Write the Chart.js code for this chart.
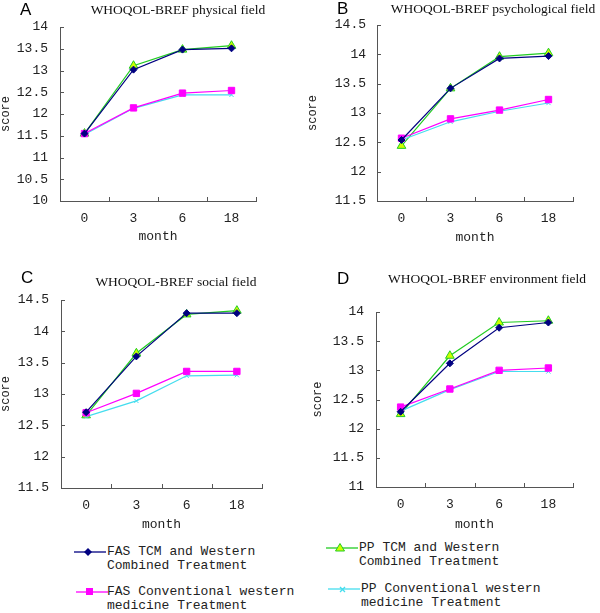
<!DOCTYPE html>
<html>
<head>
<meta charset="utf-8">
<script src="https://cdn.jsdelivr.net/npm/chart.js@4"></script>
<style>
  body { margin: 0; background: #fff; }
  #page { position: relative; width: 600px; height: 613px; overflow: hidden; }
  canvas { position: absolute; }
  .title { position: absolute; font: 13.5px "Liberation Serif", serif; color: #111; white-space: nowrap; transform: translate(-50%, -50%); }
  .letter { position: absolute; font: 17px "Liberation Sans", Arial, sans-serif; color: #000; line-height: 1; }
  .leg { position: absolute; font: 13px "Liberation Mono", monospace; color: #222; line-height: 13.5px; white-space: nowrap; }
  .sym { position: absolute; }
</style>
</head>
<body>
<div id="page">
  <canvas id="cA" width="300" height="250" style="left:0;top:0"></canvas>
  <canvas id="cB" width="300" height="250" style="left:300px;top:0"></canvas>
  <canvas id="cC" width="300" height="283" style="left:0;top:250px"></canvas>
  <canvas id="cD" width="300" height="283" style="left:300px;top:250px"></canvas>

  <div class="letter" style="left:20px;top:1px">A</div>
  <div class="letter" style="left:337px;top:0px">B</div>
  <div class="letter" style="left:21px;top:269px">C</div>
  <div class="letter" style="left:337px;top:270px">D</div>

  <div class="title" style="left:178px;top:10px">WHOQOL-BREF physical field</div>
  <div class="title" style="left:493px;top:9px">WHOQOL-BREF psychological field</div>
  <div class="title" style="left:176px;top:282px">WHOQOL-BREF social field</div>
  <div class="title" style="left:487px;top:279px">WHOQOL-BREF environment field</div>

  <svg class="sym" style="left:72px;top:545px" width="36" height="14">
    <line x1="2" y1="7" x2="34" y2="7" stroke="#000080" stroke-width="1.3"/>
    <polygon points="16,3 20,7 16,11 12,7" fill="#000080"/>
  </svg>
  <div class="leg" style="left:107px;top:545px">FAS TCM and Western<br>Combined Treatment</div>

  <svg class="sym" style="left:324px;top:541px" width="36" height="14">
    <line x1="2" y1="7" x2="34" y2="7" stroke="#22cc22" stroke-width="1.3"/>
    <polygon points="16,2.5 20.5,10 11.5,10" fill="#ccff00" stroke="#22cc22" stroke-width="1"/>
  </svg>
  <div class="leg" style="left:359px;top:541px">PP TCM and Western<br>Combined Treatment</div>

  <svg class="sym" style="left:74px;top:585px" width="36" height="14">
    <line x1="2" y1="7" x2="34" y2="7" stroke="#ff00ff" stroke-width="1.3"/>
    <rect x="12" y="3" width="7" height="7" fill="#ff00ff"/>
  </svg>
  <div class="leg" style="left:107px;top:585px">FAS Conventional western<br>medicine Treatment</div>

  <svg class="sym" style="left:326px;top:582px" width="36" height="14">
    <line x1="2" y1="7" x2="34" y2="7" stroke="#44ddee" stroke-width="1.3"/>
    <path d="M14,5 L19,10 M19,5 L14,10" stroke="#44ddee" stroke-width="1.3"/>
  </svg>
  <div class="leg" style="left:361px;top:582px">PP Conventional western<br>medicine Treatment</div>
</div>

<script>
// months of follow-up
const months = ['0', '3', '6', '18'];

const seriesNames = [
  'FAS TCM and Western Combined Treatment',
  'FAS Conventional western medicine Treatment',
  'PP Conventional western medicine Treatment',
  'PP TCM and Western Combined Treatment'
];

// A: physical field
const physFasTcm  = [11.55, 13.02, 13.48, 13.51];
const physFasConv = [11.55, 12.14, 12.48, 12.54];
const physPpConv  = [11.53, 12.13, 12.44, 12.44];
const physPpTcm   = [11.55, 13.11, 13.48, 13.57];

// B: psychological field
const psyFasTcm  = [12.54, 13.42, 13.93, 13.97];
const psyFasConv = [12.57, 12.90, 13.05, 13.23];
const psyPpConv  = [12.54, 12.85, 13.03, 13.17];
const psyPpTcm   = [12.44, 13.42, 13.96, 14.02];

// C: social field
const socFasTcm  = [12.71, 13.60, 14.29, 14.29];
const socFasConv = [12.70, 13.01, 13.36, 13.36];
const socPpConv  = [12.64, 12.89, 13.29, 13.30];
const socPpTcm   = [12.66, 13.65, 14.27, 14.33];

// D: environment field
const envFasTcm  = [12.29, 13.12, 13.73, 13.82];
const envFasConv = [12.37, 12.68, 13.00, 13.04];
const envPpConv  = [12.30, 12.67, 12.98, 12.98];
const envPpTcm   = [12.25, 13.25, 13.82, 13.85];

const axisColor = '#555';
const textColor = '#222';

const styles = [
  { borderColor: '#000080', backgroundColor: '#000080', pointStyle: 'rectRot', pointRadius: 3.5 },
  { borderColor: '#ff00ff', backgroundColor: '#ff00ff', pointStyle: 'rect', pointRadius: 4.5 },
  { borderColor: '#44ddee', backgroundColor: '#44ddee', pointStyle: 'crossRot', pointRadius: 3 },
  { borderColor: '#22cc22', backgroundColor: '#ccff00', pointStyle: 'triangle', pointRadius: 5 }
];

// small tick marks pointing into the plot area
const innerTicks = {
  id: 'innerTicks',
  afterDraw(chart) {
    const { ctx, scales: { x, y } } = chart;
    const half = (x.getPixelForValue(1) - x.getPixelForValue(0)) / 2;
    ctx.save();
    ctx.strokeStyle = axisColor;
    ctx.lineWidth = 1;
    ctx.beginPath();
    y.ticks.forEach(t => {
      const py = Math.round(y.getPixelForValue(t.value)) + 0.5;
      ctx.moveTo(y.right, py);
      ctx.lineTo(y.right + 4, py);
    });
    x.ticks.forEach((t, i) => {
      const px = Math.round(x.getPixelForValue(i) + half) + 0.5;
      ctx.moveTo(px, x.top);
      ctx.lineTo(px, x.top - 4);
    });
    ctx.stroke();
    ctx.restore();
  }
};

function makePanel(id, series, yMin, yMax, box) {
  new Chart(document.getElementById(id), {
    type: 'line',
    data: {
      labels: months,
      datasets: series.map((d, i) => Object.assign({
        label: seriesNames[i],
        data: d,
        borderWidth: 1.2,
        pointBorderWidth: 1,
        tension: 0
      }, styles[i]))
    },
    options: {
      responsive: false,
      animation: false,
      layout: { padding: { left: box.padLeft, top: box.top, right: box.padRight, bottom: box.padBottom } },
      plugins: { legend: { display: false }, tooltip: { enabled: false } },
      scales: {
        x: {
          offset: true,
          grid: { display: false, drawTicks: false },
          border: { display: true, color: axisColor, width: 1 },
          ticks: { color: textColor, padding: 10, font: { family: 'Liberation Mono', size: 13 } },
          title: { display: true, text: 'month', color: textColor, padding: 0,
                   font: { family: 'Liberation Mono', size: 13 } },
          afterFit: s => { s.height = box.xHeight; }
        },
        y: {
          min: yMin,
          max: yMax,
          grid: { display: false, drawTicks: false },
          border: { display: true, color: axisColor, width: 1 },
          ticks: { stepSize: 0.5, color: textColor, padding: box.tickPad,
                   font: { family: 'Liberation Mono', size: 13 }, callback: v => String(v) },
          title: { display: true, text: 'score', color: textColor, padding: 0,
                   font: { family: 'Liberation Mono', size: 12, lineHeight: 1 } },
          afterFit: s => { s.width = box.yWidth; }
        }
      }
    },
    plugins: [innerTicks]
  });
}

makePanel('cA', [physFasTcm, physFasConv, physPpConv, physPpTcm], 10, 14,
  { padLeft: 0, yWidth: 60, top: 27, padRight: 44, xHeight: 43, padBottom: 6, tickPad: 12 });
makePanel('cB', [psyFasTcm, psyFasConv, psyPpConv, psyPpTcm], 11.5, 14.5,
  { padLeft: 7, yWidth: 70, top: 25, padRight: 27, xHeight: 44, padBottom: 5, tickPad: 11 });
makePanel('cC', [socFasTcm, socFasConv, socPpConv, socPpTcm], 11.5, 14.5,
  { padLeft: 0, yWidth: 61, top: 50, padRight: 38, xHeight: 44, padBottom: 1, tickPad: 12 });
makePanel('cD', [envFasTcm, envFasConv, envPpConv, envPpTcm], 11, 14,
  { padLeft: 12, yWidth: 64, top: 62, padRight: 27, xHeight: 45, padBottom: 1, tickPad: 12 });
</script>
</body>
</html>
